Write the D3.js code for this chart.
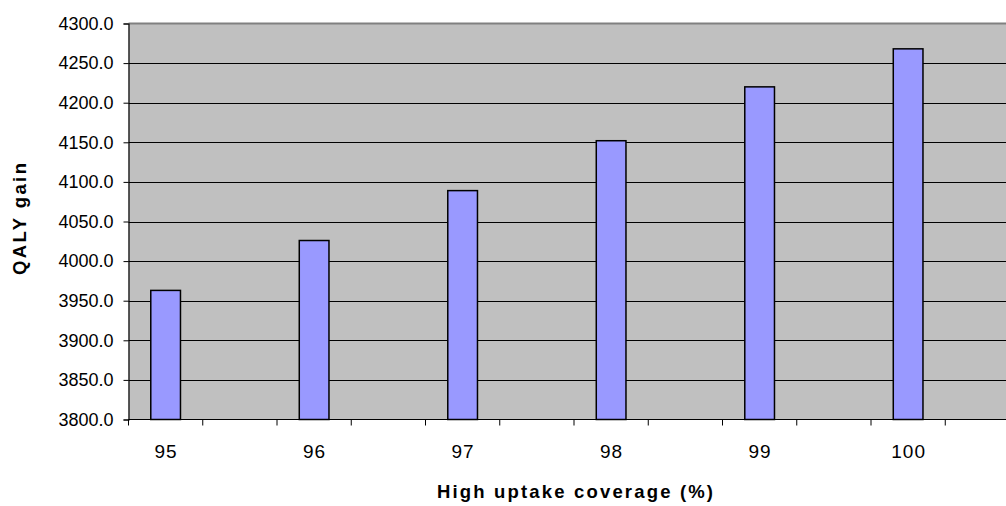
<!DOCTYPE html>
<html>
<head>
<meta charset="utf-8">
<script src="https://cdn.jsdelivr.net/npm/d3@7"></script>
<style>
  html, body { margin: 0; padding: 0; background: #ffffff; }
  svg { display: block; }
  text { font-family: "Liberation Sans", Arial, sans-serif; fill: #000; }
</style>
</head>
<body>
<svg id="chart" width="1006" height="506"></svg>
<script>
// Coverage levels (%) and the QALY gain at each level
const categories = ["95", "96", "97", "98", "99", "100"];
const qalyGain = [3963, 4026, 4089, 4152, 4220, 4268];
const yTicks = [3800, 3850, 3900, 3950, 4000, 4050, 4100, 4150, 4200, 4250, 4300];

const svg = d3.select("#chart");
const margin = { left: 128.5, top: 23.5, bottom: 419.5 };
const slotWidth = 148.5;            // width reserved for each coverage level
const right = margin.left + slotWidth * categories.length;

// Category positions: each level gets a slot; the bar sits in the slot's left half
const x = d3.scaleBand().domain(categories).range([margin.left, right]).paddingInner(0).paddingOuter(0);
const y = d3.scaleLinear().domain([3800, 4300]).range([margin.bottom, margin.top]);

// Plot background
svg.append("rect")
  .attr("x", margin.left).attr("y", margin.top)
  .attr("width", right - margin.left).attr("height", margin.bottom - margin.top)
  .attr("fill", "#c0c0c0");

// Horizontal gridlines
svg.append("g").selectAll("line")
  .data(yTicks.slice(1, -1))
  .join("line")
  .attr("x1", margin.left).attr("x2", right)
  .attr("y1", d => Math.round(y(d)) + 0.5).attr("y2", d => Math.round(y(d)) + 0.5)
  .attr("stroke", "#000").attr("stroke-width", 1);

// Top border of plot area
svg.append("line")
  .attr("x1", margin.left).attr("x2", right)
  .attr("y1", margin.top).attr("y2", margin.top)
  .attr("stroke", "#808080").attr("stroke-width", 2);

// Bars
const half = x.bandwidth() / 2;
const barW = half / 2.5;
svg.append("g").selectAll("rect")
  .data(categories.map((c, i) => ({ c, v: qalyGain[i] })))
  .join("rect")
  .attr("x", d => x(d.c) + (half - barW) / 2)
  .attr("y", d => y(d.v))
  .attr("width", barW)
  .attr("height", d => y(3800) - y(d.v))
  .attr("fill", "#9999ff")
  .attr("stroke", "#000")
  .attr("stroke-width", 1.5);

// Y axis
const yAxis = d3.axisLeft(y)
  .tickValues(yTicks)
  .tickFormat(d3.format(".1f"))
  .tickSize(5)
  .tickPadding(10);
const gy = svg.append("g")
  .attr("transform", `translate(${margin.left},0)`)
  .call(yAxis);
gy.select(".domain").attr("stroke", "#000").attr("stroke-width", 1.2);
gy.selectAll(".tick line").attr("stroke", "#000");
gy.selectAll(".tick text")
  .style("font-family", "'Liberation Sans', Arial, sans-serif")
  .style("font-size", "18px")
  .attr("fill", "#000");

// X axis: tick marks between halves of each slot, labels under each bar
const tickPos = d3.range(categories.length * 2 + 1).map(i => margin.left + i * half);
const gx = svg.append("g");
gx.append("line")
  .attr("x1", margin.left).attr("x2", right)
  .attr("y1", margin.bottom).attr("y2", margin.bottom)
  .attr("stroke", "#000").attr("stroke-width", 1.2);
gx.selectAll("line.tk")
  .data(tickPos)
  .join("line")
  .attr("class", "tk")
  .attr("x1", d => d).attr("x2", d => d)
  .attr("y1", margin.bottom).attr("y2", margin.bottom + 6)
  .attr("stroke", "#000");
gx.selectAll("text")
  .data(categories)
  .join("text")
  .attr("x", d => x(d) + half / 2)
  .attr("dx", 0.5)
  .attr("y", 458)
  .attr("text-anchor", "middle")
  .style("font-size", "19px")
  .style("letter-spacing", "1px")
  .text(d => d);

// Axis titles
svg.append("text")
  .attr("x", 575).attr("y", 498)
  .attr("text-anchor", "middle")
  .attr("textLength", 276)
  .attr("lengthAdjust", "spacing")
  .style("font-size", "18.5px").style("font-weight", "bold")
  .text("High uptake coverage (%)");

svg.append("text")
  .attr("transform", "translate(25.5,219) rotate(-90)")
  .attr("text-anchor", "middle")
  .attr("textLength", 112)
  .attr("lengthAdjust", "spacing")
  .style("font-size", "18.5px").style("font-weight", "bold")
  .text("QALY gain");
</script>
</body>
</html>
